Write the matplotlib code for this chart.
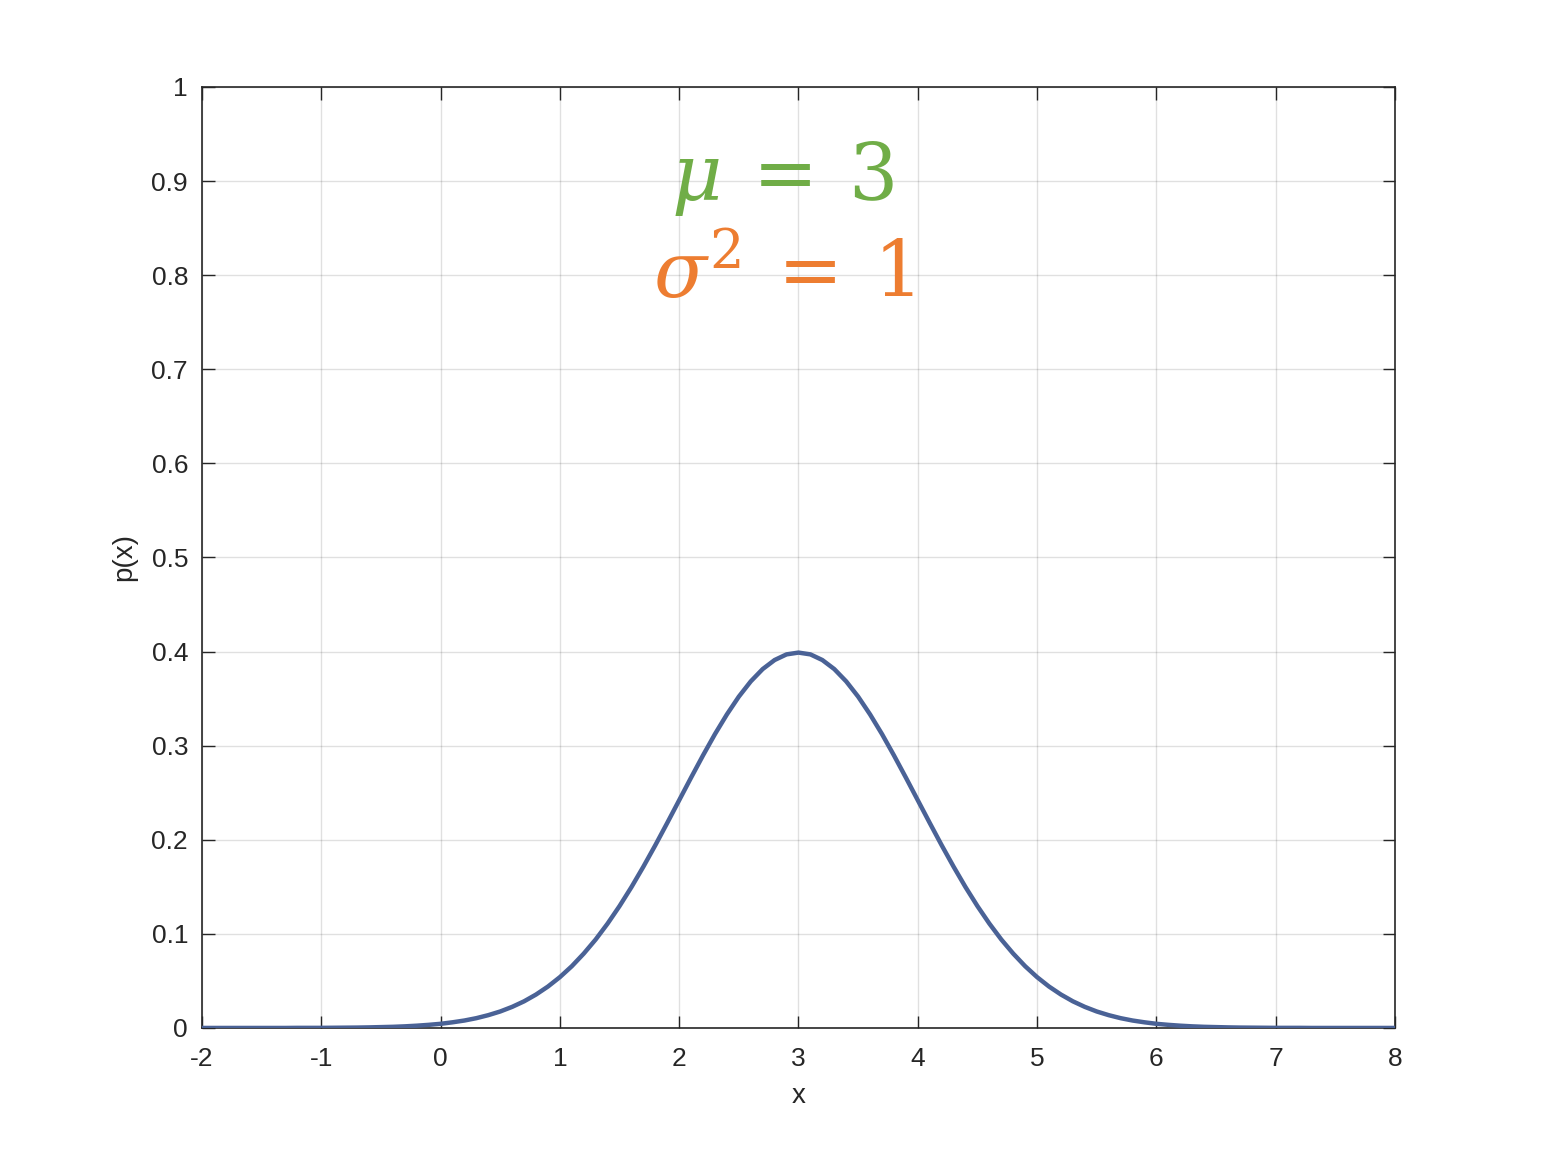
import numpy as np
import matplotlib
matplotlib.use("Agg")
import matplotlib.pyplot as plt

# sample grid and density values
x_vals = np.linspace(-2, 8, 101)
p_vals = [
    0.0000, 0.0000, 0.0000, 0.0000, 0.0000, 0.0000, 0.0000, 0.0000, 0.0001, 0.0001,
    0.0001, 0.0002, 0.0003, 0.0004, 0.0006, 0.0009, 0.0012, 0.0017, 0.0024, 0.0033,
    0.0044, 0.0060, 0.0079, 0.0104, 0.0136, 0.0175, 0.0224, 0.0283, 0.0355, 0.0440,
    0.0540, 0.0656, 0.0790, 0.0940, 0.1109, 0.1295, 0.1497, 0.1714, 0.1942, 0.2179,
    0.2420, 0.2661, 0.2897, 0.3123, 0.3332, 0.3521, 0.3683, 0.3814, 0.3910, 0.3970,
    0.3989,
    0.3970, 0.3910, 0.3814, 0.3683, 0.3521, 0.3332, 0.3123, 0.2897, 0.2661, 0.2420,
    0.2179, 0.1942, 0.1714, 0.1497, 0.1295, 0.1109, 0.0940, 0.0790, 0.0656, 0.0540,
    0.0440, 0.0355, 0.0283, 0.0224, 0.0175, 0.0136, 0.0104, 0.0079, 0.0060, 0.0044,
    0.0033, 0.0024, 0.0017, 0.0012, 0.0009, 0.0006, 0.0004, 0.0003, 0.0002, 0.0001,
    0.0001, 0.0001, 0.0000, 0.0000, 0.0000, 0.0000, 0.0000, 0.0000, 0.0000, 0.0000,
]
x_ticks = [-2, -1, 0, 1, 2, 3, 4, 5, 6, 7, 8]
y_ticks = [0, 0.1, 0.2, 0.3, 0.4, 0.5, 0.6, 0.7, 0.8, 0.9, 1]
y_ticklabels = ["0", "0.1", "0.2", "0.3", "0.4", "0.5", "0.6", "0.7", "0.8", "0.9", "1"]

plt.rcParams["font.family"] = ["Liberation Sans", "DejaVu Sans"]
plt.rcParams["mathtext.fontset"] = "dejavuserif"

dark = "#262626"
fig = plt.figure(figsize=(15.44, 11.55), dpi=100)
ax = fig.add_axes([0.1308, 0.1100, 0.7727, 0.8147])

ax.plot(x_vals, p_vals, color="#4A6296", lw=3.2, solid_capstyle="butt", zorder=3)

ax.set_xlim(-2, 8)
ax.set_ylim(0, 1)
ax.set_xticks(x_ticks)
ax.set_xticklabels([str(t) for t in x_ticks])
ax.set_yticks(y_ticks)
ax.set_yticklabels(y_ticklabels)
ax.tick_params(direction="in", length=9, width=1.0, top=True, right=True,
               labelsize=19, colors=dark)
ax.tick_params(axis="x", pad=14)
ax.tick_params(axis="y", pad=10)
for s in ax.spines.values():
    s.set_color(dark)
    s.set_linewidth(1.2)
ax.grid(True, color="#000000", alpha=0.12, lw=1.0)
ax.set_axisbelow(True)

ax.set_xlabel("x", fontsize=20, color=dark, labelpad=8)
ax.set_ylabel("p(x)", fontsize=20, color=dark, labelpad=10)

ax.text(2.87, 0.88, r"$\mu\:=\:3$", color="#70AD47", fontsize=56,
        ha="center", va="baseline")
ax.text(2.87, 0.777, r"$\sigma^{2}\:=\:1$", color="#ED7D31", fontsize=56,
        ha="center", va="baseline")

fig.savefig("out.png", dpi=100, facecolor="white")
